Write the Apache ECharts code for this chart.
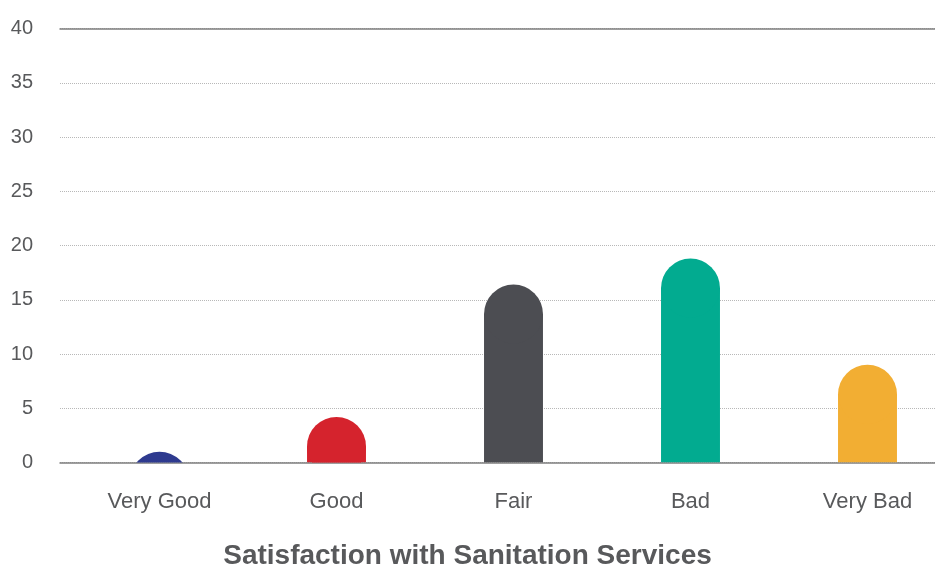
<!DOCTYPE html>
<html>
<head>
<meta charset="utf-8">
<script src="https://cdn.jsdelivr.net/npm/echarts@6/dist/echarts.min.js"></script>
<style>
  html, body { margin: 0; padding: 0; background: #ffffff; }
  #chart { width: 935px; height: 568px; }
</style>
</head>
<body>
<div id="chart"></div>
<script>
// Satisfaction ratings (percent of respondents)
const categories = ['Very Good', 'Good', 'Fair', 'Bad', 'Very Bad'];
const values = [1.0, 4.2, 16.4, 18.8, 9.0];
const yTicks = [0, 5, 10, 15, 20, 25, 30, 35, 40];

const barColors = ['#2E3A8F', '#D5232D', '#4C4D52', '#02AB90', '#F2AE33'];
const textColor = '#58595B';
const fontFamily = '"Liberation Sans", Arial, sans-serif';

const chart = echarts.init(document.getElementById('chart'), null, { renderer: 'canvas' });

// Pill-shaped column: a rectangle topped with a half circle whose apex sits at the value.
function renderPill(params, api) {
  const idx = api.value(0);
  const base = api.coord([idx, 0]);
  const top = api.coord([idx, api.value(1)]);
  const w = api.size([1, 0])[0] * 0.333;
  const r = w / 2;
  const fill = barColors[params.dataIndex];
  return {
    type: 'group',
    children: [
      {
        type: 'rect',
        shape: { x: base[0] - r, y: top[1] + r, width: w, height: Math.max(0, base[1] - top[1] - r) },
        style: { fill: fill }
      },
      {
        type: 'circle',
        shape: { cx: base[0], cy: top[1] + r, r: r },
        style: { fill: fill }
      }
    ]
  };
}

chart.setOption({
  backgroundColor: '#ffffff',
  animation: false,
  title: {
    text: 'Satisfaction with Sanitation Services',
    left: 'center',
    top: 537,
    textStyle: { fontFamily: fontFamily, fontSize: 28, fontWeight: 'bold', color: textColor }
  },
  grid: [
    { left: 60, right: 0, top: 28.5, bottom: 105.5 },
    // category bands run slightly past the right edge of the frame
    { left: 71, width: 885, top: 28.5, bottom: 105.5, outerBoundsMode: 'none' }
  ],
  xAxis: [
    {
      // baseline across the full plot width
      type: 'category', gridIndex: 0, data: categories,
      axisLine: { show: true, lineStyle: { color: '#7F7F7F', width: 1.5 } },
      axisTick: { show: false }, axisLabel: { show: false }, splitLine: { show: false }
    },
    {
      type: 'category', gridIndex: 1, data: categories,
      axisLine: { show: false }, axisTick: { show: false },
      axisLabel: { color: textColor, fontFamily: fontFamily, fontSize: 22, margin: 28 }
    },
    {
      // solid rule at the top of the scale
      type: 'category', gridIndex: 0, position: 'top', data: categories,
      axisLine: { show: true, lineStyle: { color: '#7F7F7F', width: 1.5 } },
      axisTick: { show: false }, axisLabel: { show: false }
    }
  ],
  yAxis: [
    {
      type: 'value', gridIndex: 0, min: yTicks[0], max: yTicks[yTicks.length - 1], interval: 5,
      axisLine: { show: false }, axisTick: { show: false },
      axisLabel: { color: textColor, fontFamily: fontFamily, fontSize: 20, margin: 27 },
      splitLine: { show: true, lineStyle: { color: '#B8B8B8', width: 1, type: [1, 1] } }
    },
    {
      type: 'value', gridIndex: 1, min: yTicks[0], max: yTicks[yTicks.length - 1], interval: 5,
      show: false
    }
  ],
  series: [
    {
      type: 'custom',
      xAxisIndex: 1,
      yAxisIndex: 1,
      clip: true,
      renderItem: renderPill,
      encode: { x: 0, y: 1 },
      data: values.map((v, i) => [i, v])
    }
  ]
});
</script>
</body>
</html>
